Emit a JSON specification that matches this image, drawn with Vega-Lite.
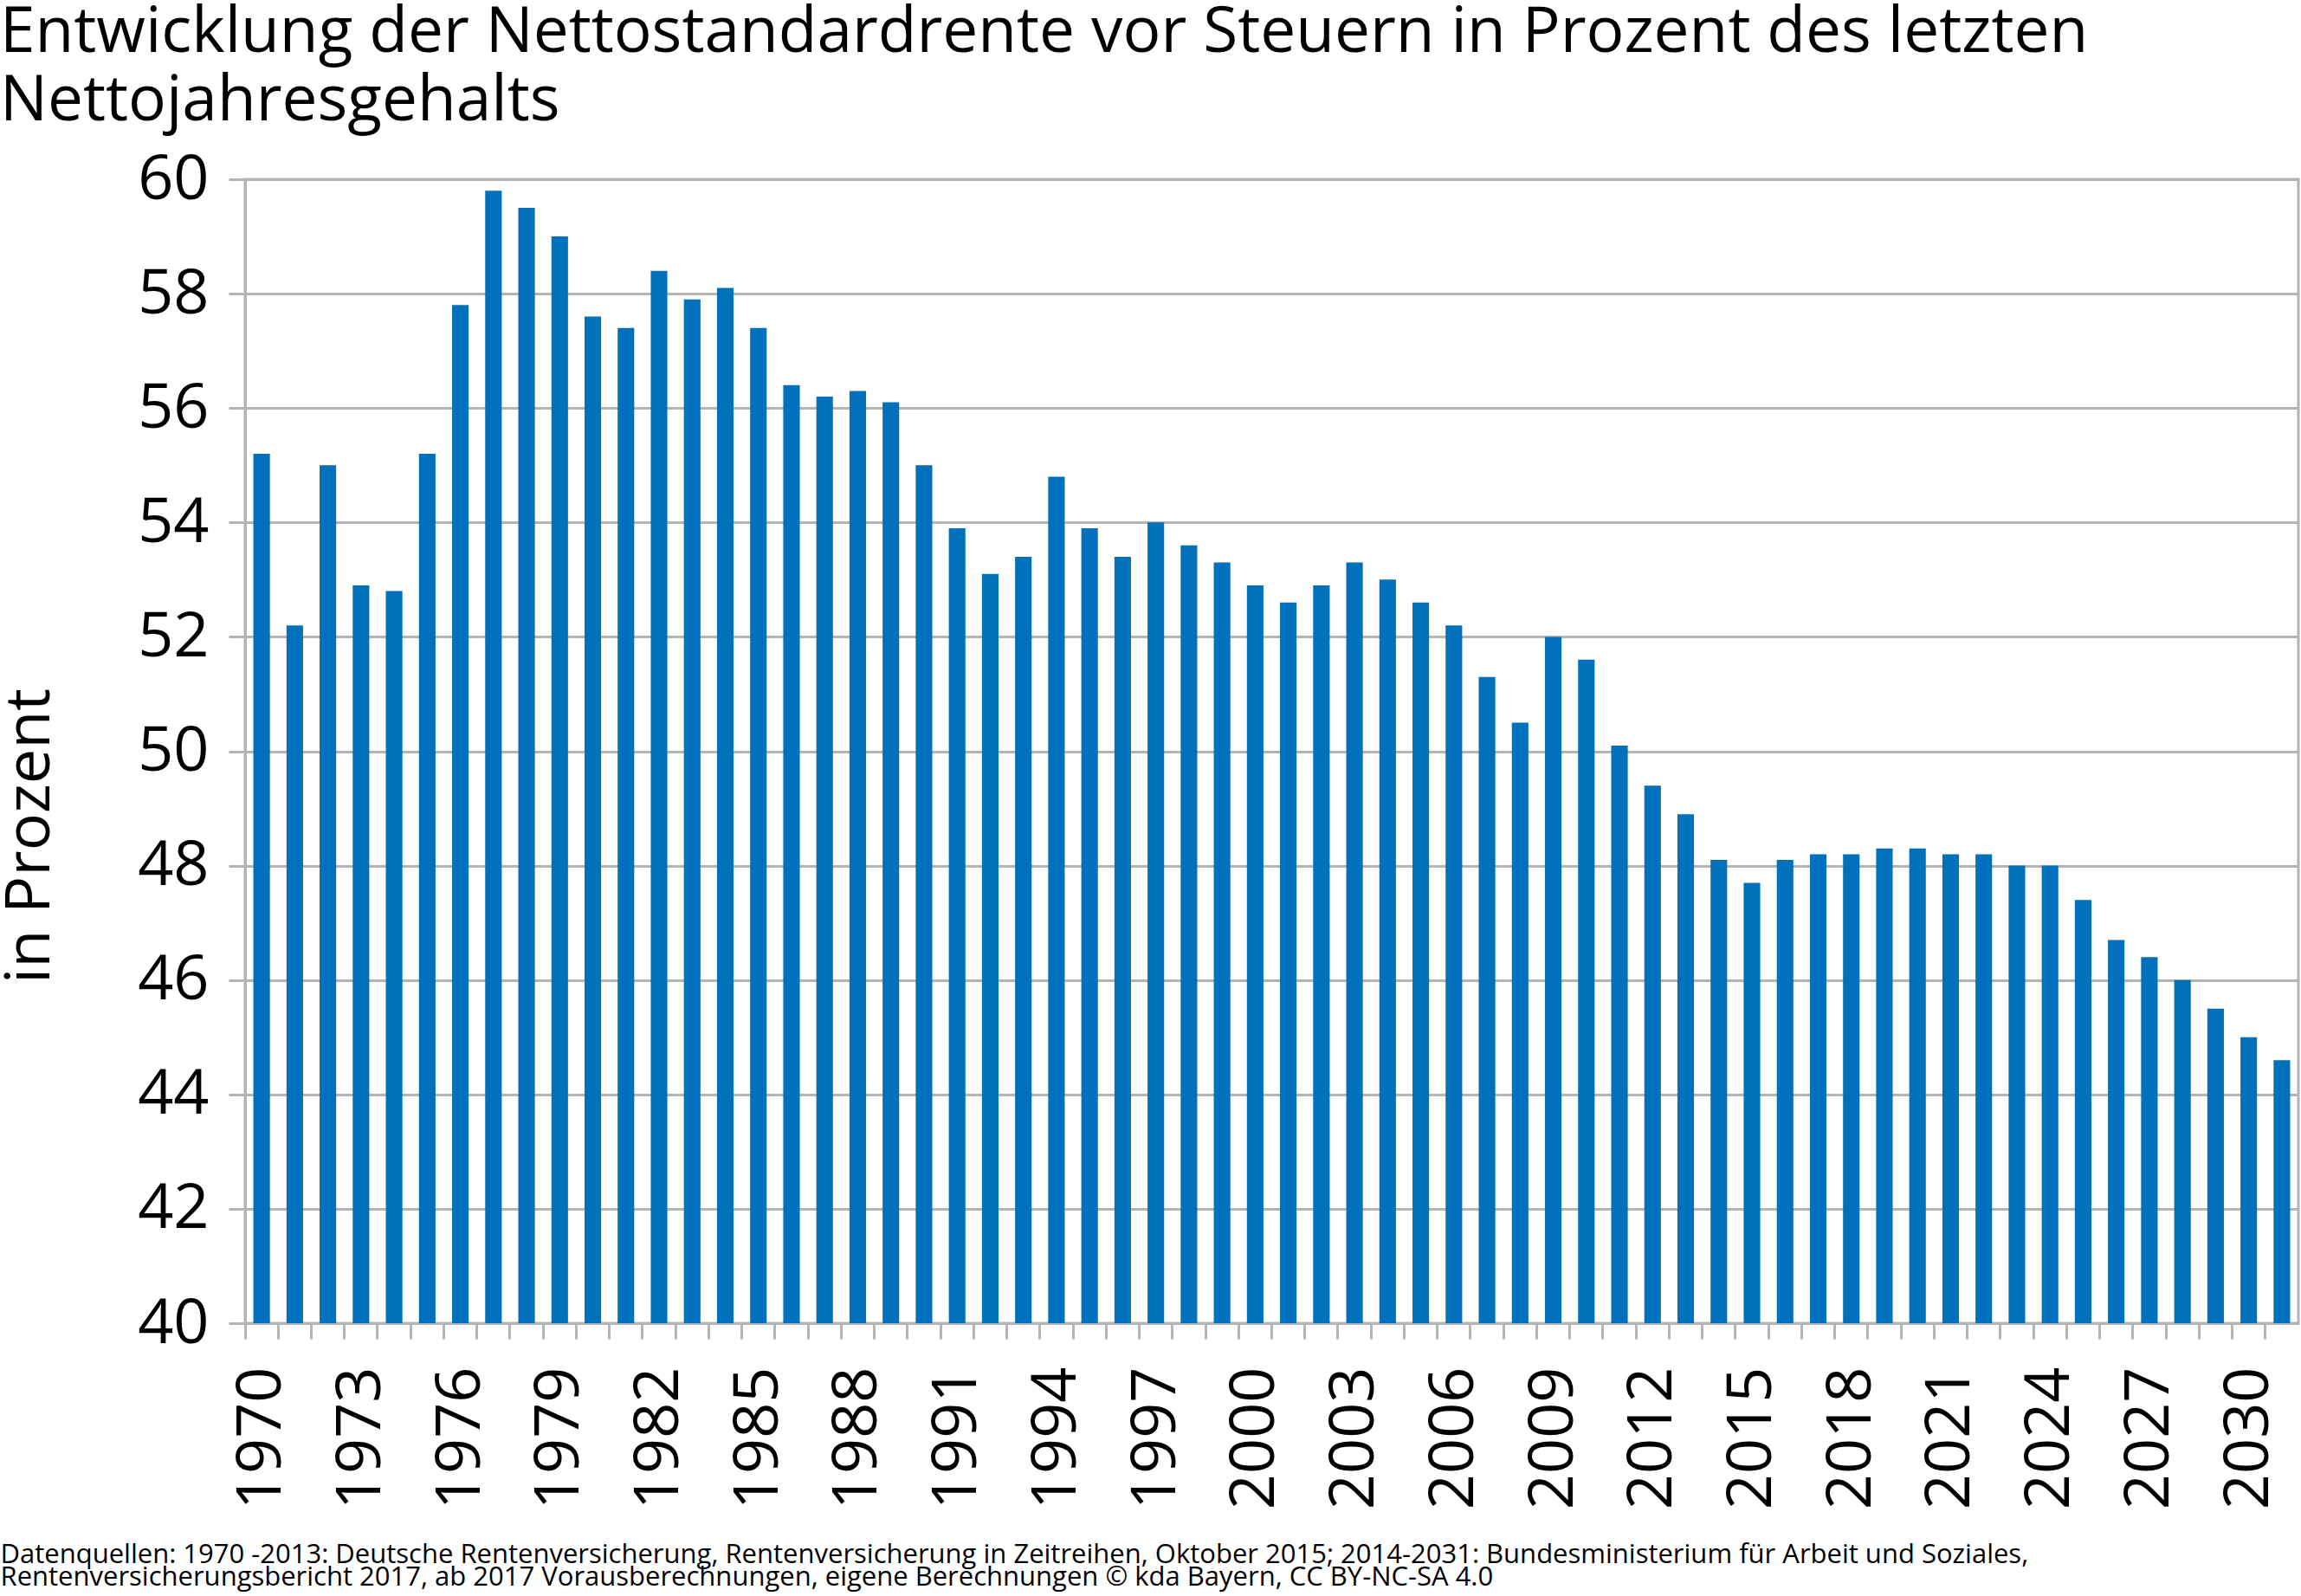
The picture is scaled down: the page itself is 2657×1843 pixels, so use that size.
{
  "$schema": "https://vega.github.io/schema/vega-lite/v6.json",
  "autosize": {"type": "none"},
  "padding": {"left": 283, "top": 207, "right": 3, "bottom": 315},
  "width": 2371,
  "height": 1321,
  "background": "white",
  "config": {
    "font": "Open Sans",
    "view": {"stroke": "#B4B4B4", "strokeWidth": 3},
    "axis": {"domainColor": "#B4B4B4", "domainWidth": 3, "tickColor": "#B4B4B4", "tickWidth": 3, "gridColor": "#B4B4B4", "gridWidth": 3, "labelColor": "black", "titleColor": "black", "labelFont": "Open Sans", "titleFont": "Open Sans"}
  },
  "title": {
    "text": ["Entwicklung der Nettostandardrente vor Steuern in Prozent des letzten", "Nettojahresgehalts"],
    "anchor": "start",
    "frame": "group",
    "dx": -283,
    "dy": 113,
    "fontSize": 73,
    "fontWeight": "normal",
    "font": "Open Sans",
    "color": "black",
    "lineHeight": 79,
    "baseline": "alphabetic",
    "offset": 72
  },
  "data": {
    "values": [
      {"Jahr": 1970, "Wert": 55.2}, {"Jahr": 1971, "Wert": 52.2}, {"Jahr": 1972, "Wert": 55.0}, {"Jahr": 1973, "Wert": 52.9},
      {"Jahr": 1974, "Wert": 52.8}, {"Jahr": 1975, "Wert": 55.2}, {"Jahr": 1976, "Wert": 57.8}, {"Jahr": 1977, "Wert": 59.8},
      {"Jahr": 1978, "Wert": 59.5}, {"Jahr": 1979, "Wert": 59.0}, {"Jahr": 1980, "Wert": 57.6}, {"Jahr": 1981, "Wert": 57.4},
      {"Jahr": 1982, "Wert": 58.4}, {"Jahr": 1983, "Wert": 57.9}, {"Jahr": 1984, "Wert": 58.1}, {"Jahr": 1985, "Wert": 57.4},
      {"Jahr": 1986, "Wert": 56.4}, {"Jahr": 1987, "Wert": 56.2}, {"Jahr": 1988, "Wert": 56.3}, {"Jahr": 1989, "Wert": 56.1},
      {"Jahr": 1990, "Wert": 55.0}, {"Jahr": 1991, "Wert": 53.9}, {"Jahr": 1992, "Wert": 53.1}, {"Jahr": 1993, "Wert": 53.4},
      {"Jahr": 1994, "Wert": 54.8}, {"Jahr": 1995, "Wert": 53.9}, {"Jahr": 1996, "Wert": 53.4}, {"Jahr": 1997, "Wert": 54.0},
      {"Jahr": 1998, "Wert": 53.6}, {"Jahr": 1999, "Wert": 53.3}, {"Jahr": 2000, "Wert": 52.9}, {"Jahr": 2001, "Wert": 52.6},
      {"Jahr": 2002, "Wert": 52.9}, {"Jahr": 2003, "Wert": 53.3}, {"Jahr": 2004, "Wert": 53.0}, {"Jahr": 2005, "Wert": 52.6},
      {"Jahr": 2006, "Wert": 52.2}, {"Jahr": 2007, "Wert": 51.3}, {"Jahr": 2008, "Wert": 50.5}, {"Jahr": 2009, "Wert": 52.0},
      {"Jahr": 2010, "Wert": 51.6}, {"Jahr": 2011, "Wert": 50.1}, {"Jahr": 2012, "Wert": 49.4}, {"Jahr": 2013, "Wert": 48.9},
      {"Jahr": 2014, "Wert": 48.1}, {"Jahr": 2015, "Wert": 47.7}, {"Jahr": 2016, "Wert": 48.1}, {"Jahr": 2017, "Wert": 48.2},
      {"Jahr": 2018, "Wert": 48.2}, {"Jahr": 2019, "Wert": 48.3}, {"Jahr": 2020, "Wert": 48.3}, {"Jahr": 2021, "Wert": 48.2},
      {"Jahr": 2022, "Wert": 48.2}, {"Jahr": 2023, "Wert": 48.0}, {"Jahr": 2024, "Wert": 48.0}, {"Jahr": 2025, "Wert": 47.4},
      {"Jahr": 2026, "Wert": 46.7}, {"Jahr": 2027, "Wert": 46.4}, {"Jahr": 2028, "Wert": 46.0}, {"Jahr": 2029, "Wert": 45.5},
      {"Jahr": 2030, "Wert": 45.0}, {"Jahr": 2031, "Wert": 44.6}
    ]
  },
  "mark": {"type": "bar", "color": "#0171BB", "width": {"band": 0.5}, "clip": true},
  "encoding": {
    "x": {
      "field": "Jahr",
      "type": "ordinal",
      "scale": {"paddingInner": 0, "paddingOuter": 0},
      "axis": {
        "bandPosition": 0,
        "labelExpr": "(datum.value - 1970) % 3 == 0 ? datum.label : ''",
        "labelAngle": -90,
        "labelAlign": "right",
        "labelBaseline": "middle",
        "labelFontSize": 72,
        "labelPadding": 32,
        "tickSize": 18,
        "labelOverlap": false,
        "grid": false,
        "title": ["Datenquellen: 1970 -2013: Deutsche Rentenversicherung, Rentenversicherung in Zeitreihen, Oktober 2015; 2014-2031: Bundesministerium für Arbeit und Soziales,", "Rentenversicherungsbericht 2017, ab 2017 Vorausberechnungen, eigene Berechnungen © kda Bayern, CC BY-NC-SA 4.0"],
        "titleFontSize": 31,
        "titleFontWeight": "normal",
        "titleLineHeight": 26,
        "titleAlign": "left",
        "titleAnchor": "start",
        "titleBaseline": "alphabetic",
        "titleX": -283,
        "titleY": 276
      }
    },
    "y": {
      "field": "Wert",
      "type": "quantitative",
      "scale": {"domain": [40, 60], "zero": false, "nice": false},
      "axis": {
        "values": [40, 42, 44, 46, 48, 50, 52, 54, 56, 58, 60],
        "labelFontSize": 72,
        "labelPadding": 23,
        "tickSize": 19,
        "grid": true,
        "title": "in Prozent",
        "titleFontSize": 72,
        "titleFontWeight": "normal",
        "titleAngle": 270,
        "titleAlign": "center",
        "titleBaseline": "alphabetic",
        "titleX": -227,
        "titleY": 758
      }
    }
  }
}
